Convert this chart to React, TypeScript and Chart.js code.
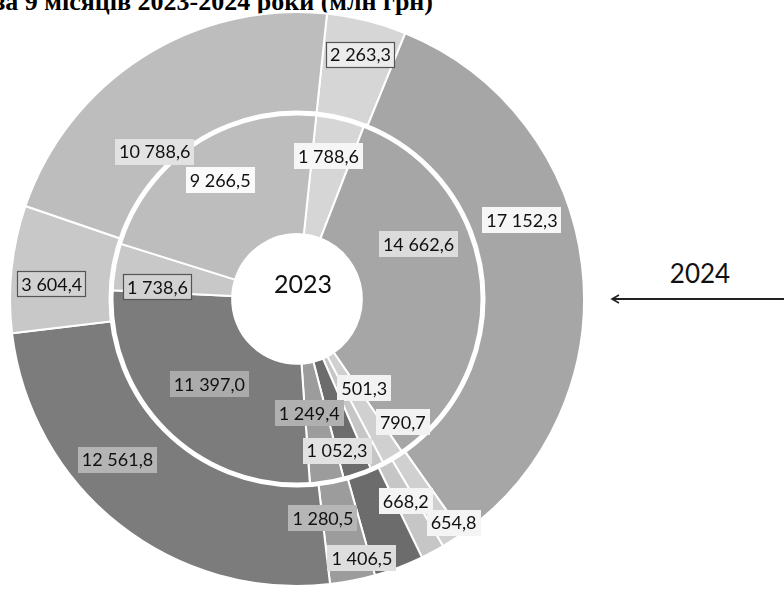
import React, { useEffect, useRef } from "react";
import { Chart, registerables } from "chart.js";

Chart.register(...registerables);

// Categories in drawing order (clockwise, starting near 12 o'clock)
const categories = [
  "Стаття 1", "Стаття 2", "Стаття 3", "Стаття 4", "Стаття 5",
  "Стаття 6", "Стаття 7", "Стаття 8", "Стаття 9",
];
// Outer ring: 2024
const values2024 = [2263.3, 17152.3, 654.8, 668.2, 1406.5, 1280.5, 12561.8, 3604.4, 10788.6];
// Inner ring: 2023
const values2023 = [1788.6, 14662.6, 790.7, 501.3, 1052.3, 1249.4, 11397.0, 1738.6, 9266.5];

const yearInner = "2023";
const yearOuter = "2024";
const titleText = "за 9 місяців 2023-2024 роки (млн грн)";

// Styles
const sliceColors = ["#d6d6d6", "#a6a6a6", "#d0d0d0", "#c6c6c6", "#6c6c6c", "#9c9c9c", "#7c7c7c", "#c8c8c8", "#bdbdbd"];
const labelFills2024 = ["#ececec", "#f6f6f6", "#f4f4f4", "#f4f4f4", "#dedede", "#b6b6b6", "#b4b4b4", "#d2d2d2", "#e2e2e2"];
const labelFills2023 = ["#f6f6f6", "#dcdcdc", "#f2f2f2", "#f2f2f2", "#e2e2e2", "#b0b0b0", "#ababab", "#d2d2d2", "#fafafa"];
const labelBorders2024 = [true, false, false, false, false, false, false, true, false];
const labelBorders2023 = [false, false, false, false, false, false, false, true, false];
// label nudges (px) away from the slice centre, as moved by hand in the original
const nudges2024: [number, number][] = [[6, -15], [-10, -52], [28, 25], [-3, -6], [-19, 38], [-20, -13], [-33, -25], [-10, 10], [-15, 52]];
const nudges2023: [number, number][] = [[2, -21], [-3, -40], [41, 16], [13, -24], [-1, 33], [-8, -10], [0, -5], [-16, 10], [-8, -14]];

function fmt(v: number): string {
  const [i, d] = v.toFixed(1).split(".");
  const withSpaces = i.replace(/\B(?=(\d{3})+(?!\d))/g, " ");
  return withSpaces + "," + d;
}

const overlayPlugin = {
  id: "overlay",
  afterDatasetsDraw(chart: any) {
    const ctx = chart.ctx as CanvasRenderingContext2D;
    const innerMeta = chart.getDatasetMeta(1);
    const a0 = innerMeta.data[0].getProps(["x", "y", "outerRadius"], true);
    ctx.save();
    ctx.strokeStyle = "#ffffff";
    ctx.lineWidth = 5;
    ctx.beginPath();
    ctx.arc(a0.x, a0.y, a0.outerRadius, 0, Math.PI * 2);
    ctx.stroke();

    ctx.font = "18px Lato";
    ctx.textAlign = "center";
    ctx.textBaseline = "middle";
    const sets = [
      { nudges: nudges2024, fills: labelFills2024, borders: labelBorders2024 },
      { nudges: nudges2023, fills: labelFills2023, borders: labelBorders2023 },
    ];
    chart.data.datasets.forEach((ds: any, di: number) => {
      const meta = chart.getDatasetMeta(di);
      const st = sets[di];
      meta.data.forEach((el: any, i: number) => {
        const c = el.getCenterPoint(true);
        const x = c.x + st.nudges[i][0];
        const y = c.y + st.nudges[i][1];
        const text = fmt(ds.data[i]);
        const w = ctx.measureText(text).width + 8;
        const h = 26;
        ctx.fillStyle = st.fills[i];
        ctx.fillRect(Math.round(x - w / 2), Math.round(y - h / 2), Math.round(w), h);
        if (st.borders[i]) {
          ctx.strokeStyle = "#555555";
          ctx.lineWidth = 1.2;
          ctx.strokeRect(Math.round(x - w / 2) + 0.5, Math.round(y - h / 2) + 0.5, Math.round(w) - 1, h - 1);
        }
        ctx.fillStyle = "#111111";
        ctx.fillText(text, x, y + 1);
      });
    });
    ctx.restore();
  },
};

export default function App() {
  const ref = useRef<HTMLCanvasElement | null>(null);

  useEffect(() => {
    if (!ref.current) return;
    const chart = new Chart(ref.current, {
      type: "doughnut",
      data: {
        labels: categories,
        datasets: [
          {
            label: yearOuter,
            data: values2024,
            backgroundColor: sliceColors,
            borderColor: "#ffffff",
            borderWidth: 2,
            weight: 1,
          } as any,
          {
            label: yearInner,
            data: values2023,
            backgroundColor: sliceColors,
            borderColor: "#ffffff",
            borderWidth: 2,
            weight: 1.2,
          } as any,
        ],
      },
      options: {
        responsive: false,
        animation: false,
        rotation: 6,
        cutout: "22.6%",
        layout: { padding: 0 },
        events: [],
        plugins: {
          legend: { display: false },
          tooltip: { enabled: false },
          title: { display: false },
        },
      },
      plugins: [overlayPlugin],
    });
    return () => chart.destroy();
  }, []);

  return (
    <div
      style={{
        position: "fixed",
        left: 0,
        top: 0,
        width: 784,
        height: 595,
        overflow: "hidden",
        background: "#ffffff",
      }}
    >
      <div
        style={{
          position: "absolute",
          right: 351,
          top: -11,
          whiteSpace: "nowrap",
          fontFamily: "'Liberation Serif', serif",
          fontWeight: "bold",
          fontSize: 26,
          lineHeight: "26px",
          color: "#000",
        }}
      >
        {titleText}
      </div>
      <canvas
        ref={ref}
        width={576}
        height={576}
        style={{ position: "absolute", left: 9, top: 11, width: 576, height: 576 }}
      />
      <div
        style={{
          position: "absolute",
          left: 263,
          top: 268,
          width: 80,
          textAlign: "center",
          fontFamily: "Lato, sans-serif",
          fontSize: 25,
          lineHeight: "30px",
          color: "#111",
        }}
      >
        {yearInner}
      </div>
      <div
        style={{
          position: "absolute",
          left: 660,
          top: 257,
          width: 80,
          textAlign: "center",
          fontFamily: "Lato, sans-serif",
          fontSize: 26,
          lineHeight: "32px",
          color: "#111",
        }}
      >
        {yearOuter}
      </div>
      <svg
        width={184}
        height={20}
        style={{ position: "absolute", left: 604, top: 289 }}
      >
        <line x1={184} y1={10} x2={9} y2={10} stroke="#222" strokeWidth={2} />
        <polyline points="15,6 8,10 15,14" fill="none" stroke="#222" strokeWidth={1.6} />
      </svg>
    </div>
  );
}
